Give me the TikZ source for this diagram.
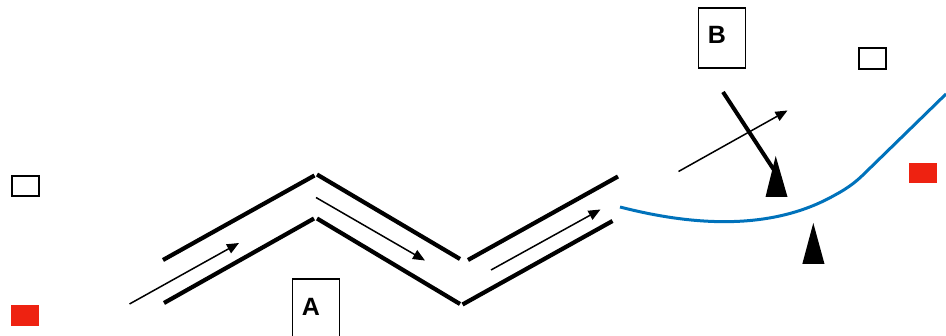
\documentclass[tikz,border=0pt]{standalone}
\usepackage{fontspec}
\setmainfont{Liberation Sans}
\usetikzlibrary{arrows.meta}
\definecolor{pipeblue}{RGB}{0,114,187}
\definecolor{markred}{RGB}{238,34,17}
\begin{document}
\begin{tikzpicture}[x=1pt,y=-1pt,
  wall/.style={line width=4.2pt},
  flow/.style={line width=1.5pt,-{Triangle[length=12pt,width=10pt]}},
  labelbox/.style={draw,line width=1.7pt,inner sep=0pt},
  openbox/.style={draw,line width=2pt},
  redbox/.style={fill=markred},
  support/.style={fill=black},
  lbl/.style={font=\fontsize{25}{28}\selectfont\bfseries,inner sep=0pt}]
\useasboundingbox (0,0) rectangle (946,336);
% upper walls
\coordinate (u1) at (163,260); \coordinate (u2) at (314.5,175.5);
\coordinate (u3) at (317,174.5); \coordinate (u4) at (460,259);
\coordinate (u5) at (468,260); \coordinate (u6) at (618,176.5);
\draw[wall] (u1) -- (u2);
\draw[wall] (u3) -- (u4);
\draw[wall] (u5) -- (u6);
% lower walls
\coordinate (l1) at (164,303); \coordinate (l2) at (314,218.5);
\coordinate (l3) at (317,218.5); \coordinate (l4) at (460,304);
\coordinate (l5) at (462.5,304.5); \coordinate (l6) at (612.5,221);
\draw[wall] (l1) -- (l2);
\draw[wall] (l3) -- (l4);
\draw[wall] (l5) -- (l6);
% flow arrows
\coordinate (f1s) at (129.5,304); \coordinate (f1e) at (239,243);
\coordinate (f2s) at (316,197.5); \coordinate (f2e) at (425,260.5);
\coordinate (f3s) at (491,270); \coordinate (f3e) at (600.5,209.5);
\coordinate (f4s) at (678.5,171.5); \coordinate (f4e) at (787.5,110.5);
\draw[flow] (f1s) -- (f1e);
\draw[flow] (f2s) -- (f2e);
\draw[flow] (f3s) -- (f3e);
\draw[flow] (f4s) -- (f4e);
% blue pipe
\coordinate (p0) at (620,207);
\coordinate (p1) at (835,195);
\coordinate (p2) at (866,172);
\coordinate (p3) at (946,94);
\draw[pipeblue,line width=3pt] (p0) .. controls (690,225) and (770,232) .. (p1)
  .. controls (850,187) and (858,180) .. (p2) -- (p3);
% thick tilted bar
\coordinate (b1) at (723,92); \coordinate (b2) at (774,170);
\draw[line width=4pt] (b1) -- (b2);
% supports
\coordinate (t1a) at (775.7,156); \coordinate (t1b) at (765.5,197); \coordinate (t1c) at (787.5,197);
\fill[support] (t1a) -- (t1b) -- (t1c) -- cycle;
\coordinate (t2a) at (813.3,223); \coordinate (t2b) at (802.3,264); \coordinate (t2c) at (824.5,264);
\fill[support] (t2a) -- (t2b) -- (t2c) -- cycle;
% label boxes
\node[labelbox,minimum width=47pt,minimum height=58pt,anchor=north west] (boxA) at (291.5,278) {};
\node[lbl] (A) at (311,306.5) {A};
\node[labelbox,minimum width=47pt,minimum height=60pt,anchor=north west] (boxB) at (697.5,7) {};
\node[lbl] (B) at (717,34.5) {B};
% small open boxes
\node[openbox,minimum width=27pt,minimum height=20pt,inner sep=0pt,anchor=north west] (o1) at (10.5,175.5) {};
\node[openbox,minimum width=27pt,minimum height=21pt,inner sep=0pt,anchor=north west] (o2) at (858,47) {};
% red squares
\node[redbox,minimum width=28pt,minimum height=21pt,inner sep=0pt,anchor=north west] (r1) at (11,305) {};
\node[redbox,minimum width=28pt,minimum height=20.5pt,inner sep=0pt,anchor=north west] (r2) at (909,162.5) {};
\end{tikzpicture}
\end{document}
